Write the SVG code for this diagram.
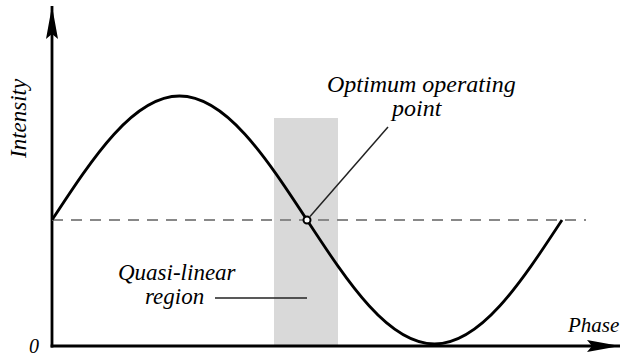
<svg xmlns="http://www.w3.org/2000/svg" width="630" height="356" viewBox="0 0 630 356">
<defs>
<marker id="ah" markerWidth="34" markerHeight="14" refX="33" refY="7" orient="auto" markerUnits="userSpaceOnUse">
<path d="M0,1 L33,7 L0,13 L5,7 Z" fill="#000"/>
</marker>
</defs>
<rect width="630" height="356" fill="#fff"/>
<g id="quasi-linear-band">
<rect x="274" y="118" width="64" height="228" fill="#d9d9d9"/>
</g>
<g id="axes" stroke="#000" stroke-width="2.8" fill="none">
<line x1="52" y1="347.4" x2="52" y2="6" marker-end="url(#ah)"/>
<line x1="50.6" y1="346" x2="620" y2="346" marker-end="url(#ah)"/>
</g>
<g id="reference-level">
<line x1="52" y1="220" x2="586" y2="220" stroke="#888" stroke-width="2" stroke-dasharray="11 8"/>
</g>
<g id="intensity-curve">
<path d="M52,220 C93.54,156.54 133.49,96 179.5,96 C225.51,96 265.46,156.54 307,220 C348.54,283.46 388.49,344 434.5,344 C480.51,344 520.46,283.46 562,220" stroke="#000" stroke-width="2.8" fill="none"/>
</g>
<g id="connectors" stroke="#222" stroke-width="1.5" fill="none">
<line x1="310" y1="216.5" x2="388" y2="127"/>
<line x1="215" y1="298" x2="307" y2="298"/>
</g>
<g id="operating-point">
<circle cx="307" cy="220" r="3.5" fill="#fff" stroke="#000" stroke-width="2"/>
</g>
<text x="327" y="92" font-family="Liberation Serif" font-style="italic" font-size="24">Optimum operating</text>
<text x="392" y="116" font-family="Liberation Serif" font-style="italic" font-size="24">point</text>
<text x="118" y="280" font-family="Liberation Serif" font-style="italic" font-size="23">Quasi-linear</text>
<text x="145" y="304" font-family="Liberation Serif" font-style="italic" font-size="23">region</text>
<text x="568" y="332" font-family="Liberation Serif" font-style="italic" font-size="21">Phase</text>
<text x="29" y="353" font-family="Liberation Serif" font-style="italic" font-size="20">0</text>
<text transform="translate(26,158) rotate(-90)" font-family="Liberation Serif" font-style="italic" font-size="23">Intensity</text>
</svg>
